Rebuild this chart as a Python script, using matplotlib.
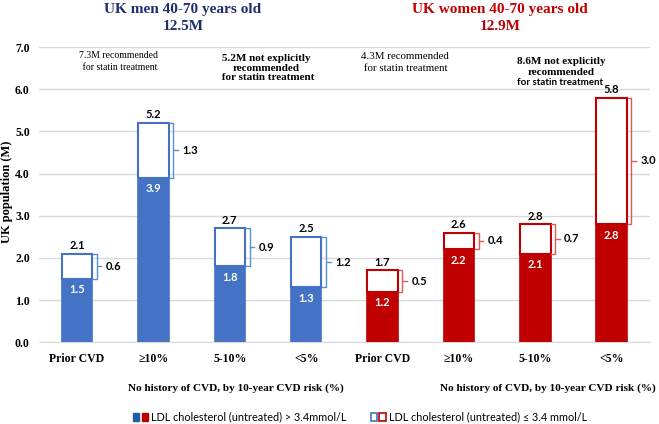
import matplotlib
matplotlib.use("Agg")
import matplotlib.pyplot as plt
from matplotlib.patches import Patch
from matplotlib.legend_handler import HandlerTuple
import numpy as np

categories = ["Prior CVD", "≥10%", "5-10%", "<5%", "Prior CVD", "≥10%", "5-10%", "<5%"]
men_high_ldl = [1.5, 3.9, 1.8, 1.3]
men_total = [2.1, 5.2, 2.7, 2.5]
women_high_ldl = [1.2, 2.2, 2.1, 2.8]
women_total = [1.7, 2.6, 2.8, 5.8]

BLUE = "#4472C4"
RED = "#C00000"
NAVY = "#1F2D6E"
SERIF = "Liberation Serif"
SANS = "Lato"

fig = plt.figure(figsize=(6.59, 4.24), dpi=100)
ax = fig.add_axes([0.059, 0.193, 0.927, 0.696])

x = np.arange(len(categories))
w = 0.4
groups = [(x[:4], men_high_ldl, men_total, BLUE, "#5B8FD6"),
          (x[4:], women_high_ldl, women_total, RED, "#E05A5A")]

for xs, low, tot, col, bcol in groups:
    upper = [t - l for t, l in zip(tot, low)]
    ax.bar(xs, low, width=w, color=col, edgecolor=col, linewidth=1.2, zorder=3)
    ax.bar(xs, upper, bottom=low, width=w, color="white", edgecolor=col, linewidth=1.5, zorder=3)
    for xi, l, t, u in zip(xs, low, tot, upper):
        ax.text(xi, t + 0.06, f"{t:.1f}", ha="center", va="bottom", fontsize=8,
                fontweight="bold", family=SANS, color="black")
        ax.text(xi, l - 0.13, f"{l:.1f}", ha="center", va="top", fontsize=8,
                fontweight="bold", family=SANS, color="white", zorder=4)
        # bracket for the upper part
        x0 = xi + w / 2 + 0.01
        xv = x0 + 0.05
        mid = (l + t) / 2
        ax.plot([x0, xv, xv, x0], [t, t, l, l], color=bcol, lw=1.0, zorder=3)
        ax.plot([xv + 0.01, xv + 0.06], [mid, mid], color=bcol, lw=1.0, zorder=3)
        ax.text(xv + 0.12, mid, f"{u:.1f}", ha="left", va="center", fontsize=8,
                fontweight="bold", family=SANS, color="black")

ax.set_xlim(-0.5, 7.5)
ax.set_ylim(0, 7.0)
ax.set_yticks(np.arange(0, 7.5, 1.0))
ax.set_yticklabels([f"{v:.1f}" for v in np.arange(0, 7.5, 1.0)], family=SERIF,
                   fontweight="bold", fontsize=8.5)
ax.set_xticks(x)
ax.set_xticklabels(categories, family=SERIF, fontweight="bold", fontsize=8.5)
ax.tick_params(axis="both", length=0)
ax.tick_params(axis="x", pad=8)
ax.tick_params(axis="y", pad=6.5)
ax.set_ylabel("UK population (M)", family=SERIF, fontweight="bold", fontsize=9)
ax.yaxis.set_label_coords(-0.0425, 0.51)
ax.grid(axis="y", color="#D9D9D9", lw=1.0, zorder=0)
for s in ["top", "right", "left"]:
    ax.spines[s].set_visible(False)
ax.spines["bottom"].set_color("#D9D9D9")

# group annotations
ax.text(0.54, 6.66, "7.3M recommended\n for statin treatment", ha="center", va="center",
        family=SERIF, fontsize=7, linespacing=1.4)
ax.text(2.48, 6.5, "5.2M not explicitly\nrecommended\n for statin treatment", ha="center",
        va="center", family=SERIF, fontsize=8, fontweight="bold", linespacing=1.1)
ax.text(4.29, 6.63, "4.3M recommended\n for statin treatment", ha="center", va="center",
        family=SERIF, fontsize=7.8, linespacing=1.4)
ax.text(6.34, 6.53, "8.6M not explicitly\nrecommended", ha="center", va="center",
        family=SERIF, fontsize=8, fontweight="bold", linespacing=1.3)
ax.text(6.33, 6.15, "for statin treatment", ha="center", va="center",
        family=SANS, fontsize=7, fontweight="bold")

# titles
fig.text(183 / 659, 1 - 18 / 424, "UK men 40-70 years old\n12.5M", ha="center", va="center",
         family=SERIF, fontweight="bold", fontsize=11, color=NAVY, linespacing=1.3)
fig.text(500 / 659, 1 - 18 / 424, "UK women 40-70 years old\n12.9M", ha="center", va="center",
         family=SERIF, fontweight="bold", fontsize=11, color=RED, linespacing=1.3)

# sub-group captions
fig.text(236 / 659, 1 - 388 / 424, "No history of CVD, by 10-year CVD risk (%)", ha="center",
         va="center", family=SERIF, fontweight="bold", fontsize=8.1)
fig.text(548 / 659, 1 - 388 / 424, "No history of CVD, by 10-year CVD risk (%)", ha="center",
         va="center", family=SERIF, fontweight="bold", fontsize=8.1)

h1 = (Patch(facecolor="#1F5FA8", edgecolor="#1F5FA8"), Patch(facecolor=RED, edgecolor=RED))
h2 = (Patch(facecolor="white", edgecolor=BLUE, lw=1.2), Patch(facecolor="white", edgecolor=RED, lw=1.2))
fig.legend([h1, h2], ["LDL cholesterol (untreated) > 3.4mmol/L", "LDL cholesterol (untreated) ≤ 3.4 mmol/L"],
           handler_map={tuple: HandlerTuple(ndivide=None, pad=0.2)},
           loc="center", bbox_to_anchor=(360 / 659, 1 - 417 / 424), ncol=2, frameon=False,
           prop={"family": SANS, "size": 7.8}, handlelength=1.4, handleheight=0.8,
           handletextpad=0.3, columnspacing=2.2)

fig.savefig("out.png", dpi=100)
